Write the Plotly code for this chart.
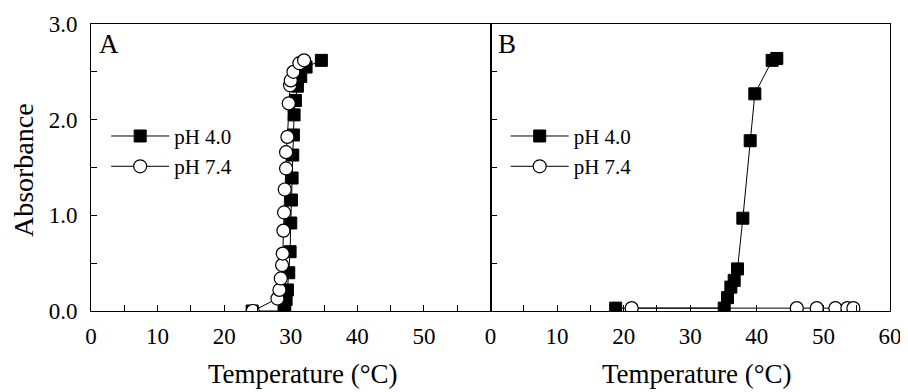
import plotly.graph_objects as go

# Panel A data
a_ph4_x = [24.2, 29.0, 29.1, 29.3, 29.5, 29.7, 29.9, 30.0, 30.1, 30.2, 30.3, 30.4, 30.5, 30.7, 31.0, 31.5, 32.3, 34.6]
a_ph4_y = [0.0, 0.0, 0.05, 0.12, 0.22, 0.40, 0.62, 0.92, 1.16, 1.39, 1.63, 1.84, 2.05, 2.20, 2.35, 2.45, 2.55, 2.62]
a_ph7_x = [24.3, 28.0, 28.3, 28.5, 28.7, 28.8, 28.9, 29.0, 29.1, 29.3, 29.3, 29.5, 29.7, 29.9, 30.0, 30.4, 31.3, 32.0]
a_ph7_y = [0.0, 0.13, 0.22, 0.34, 0.48, 0.60, 0.84, 1.03, 1.27, 1.49, 1.66, 1.82, 2.17, 2.36, 2.41, 2.50, 2.59, 2.62]

# Panel B data
b_ph4_x = [18.8, 35.1, 35.6, 36.1, 36.6, 37.1, 37.9, 39.0, 39.7, 42.3, 43.0]
b_ph4_y = [0.03, 0.03, 0.14, 0.25, 0.32, 0.44, 0.97, 1.78, 2.27, 2.62, 2.64]
b_ph7_x = [21.2, 46.0, 49.0, 51.8, 53.6, 54.5]
b_ph7_y = [0.03, 0.03, 0.03, 0.03, 0.03, 0.03]

x_ticks_a = [0, 10, 20, 30, 40, 50]
x_ticks_b = [0, 10, 20, 30, 40, 50, 60]
y_ticks = [0, 1, 2, 3]
y_labels = ["0.0", "1.0", "2.0", "3.0"]
panel_labels = ["A", "B"]
series_names = ["pH 4.0", "pH 7.4"]
x_title = "Temperature (°C)"
y_title = "Absorbance"

FONT = "Liberation Serif"

fig = go.Figure()

def add_pair(xs4, ys4, xs7, ys7, xa, ya, leg):
    fig.add_trace(go.Scatter(
        x=xs4, y=ys4, mode="lines+markers", name=series_names[0],
        xaxis=xa, yaxis=ya, legend=leg,
        line=dict(color="black", width=1),
        marker=dict(symbol="square", size=12, color="black", line=dict(color="black", width=1)),
    ))
    fig.add_trace(go.Scatter(
        x=xs7, y=ys7, mode="lines+markers", name=series_names[1],
        xaxis=xa, yaxis=ya, legend=leg,
        line=dict(color="black", width=1),
        marker=dict(symbol="circle", size=13, color="white", line=dict(color="black", width=1.2)),
    ))

add_pair(a_ph4_x, a_ph4_y, a_ph7_x, a_ph7_y, "x", "y", "legend")
add_pair(b_ph4_x, b_ph4_y, b_ph7_x, b_ph7_y, "x2", "y2", "legend2")

axis_common = dict(
    showline=True, linecolor="black", linewidth=1, mirror=True, automargin=False,
    ticks="inside", ticklen=6, tickcolor="black", showgrid=False, zeroline=False,
    tickfont=dict(family=FONT, size=23, color="black"),
)
minor_x = dict(dtick=5, ticks="inside", ticklen=6, tickcolor="black")
minor_y = dict(dtick=0.5, ticks="inside", ticklen=6, tickcolor="black")

# page body has an 8px margin, so the figure is sized to fit the window
fig.update_layout(
    width=900, height=384,
    margin=dict(l=83, r=18, t=16, b=81),
    paper_bgcolor="white", plot_bgcolor="white",
    font=dict(family=FONT, color="black"),
    xaxis=dict(domain=[0, 0.5], range=[0, 60], tickvals=x_ticks_a, minor=minor_x,
               ticklabelstandoff=4, anchor="y", **axis_common),
    yaxis=dict(domain=[0, 1], range=[0, 3], tickvals=y_ticks, ticktext=y_labels, minor=minor_y,
               ticklabelstandoff=8, anchor="x", **axis_common),
    xaxis2=dict(domain=[0.5, 1], range=[0, 60], tickvals=x_ticks_b, minor=minor_x,
                ticklabelstandoff=4, anchor="y2", **axis_common),
    yaxis2=dict(domain=[0, 1], range=[0, 3], tickvals=y_ticks, showticklabels=False,
                minor=minor_y, anchor="x2", **axis_common),
    legend=dict(x=0.019, y=0.68, xanchor="left", yanchor="top", bgcolor="rgba(0,0,0,0)",
                font=dict(family=FONT, size=21), tracegroupgap=0, itemwidth=58),
    legend2=dict(x=0.519, y=0.68, xanchor="left", yanchor="top", bgcolor="rgba(0,0,0,0)",
                 font=dict(family=FONT, size=21), tracegroupgap=0, itemwidth=58),
    showlegend=True,
)

for i, xa in enumerate(["x", "x2"]):
    ya = "y" if xa == "x" else "y2"
    fig.add_annotation(text=panel_labels[i], xref=f"{xa} domain", yref=f"{ya} domain", x=0.015, y=0.93,
                       xanchor="left", yanchor="middle", showarrow=False,
                       font=dict(family=FONT, size=27, color="black"))

fig.add_annotation(text=x_title, xref="paper", yref="paper", x=0.2653, y=-0.2195,
                   xanchor="center", yanchor="middle", showarrow=False,
                   font=dict(family=FONT, size=27, color="black"))
fig.add_annotation(text=x_title, xref="paper", yref="paper", x=0.758, y=-0.2195,
                   xanchor="center", yanchor="middle", showarrow=False,
                   font=dict(family=FONT, size=27, color="black"))
fig.add_annotation(text=y_title, xref="paper", yref="paper", x=-0.0851, y=0.491,
                   xanchor="center", yanchor="middle", textangle=-90, showarrow=False,
                   font=dict(family=FONT, size=28, color="black"))

fig.write_html("out.html")
